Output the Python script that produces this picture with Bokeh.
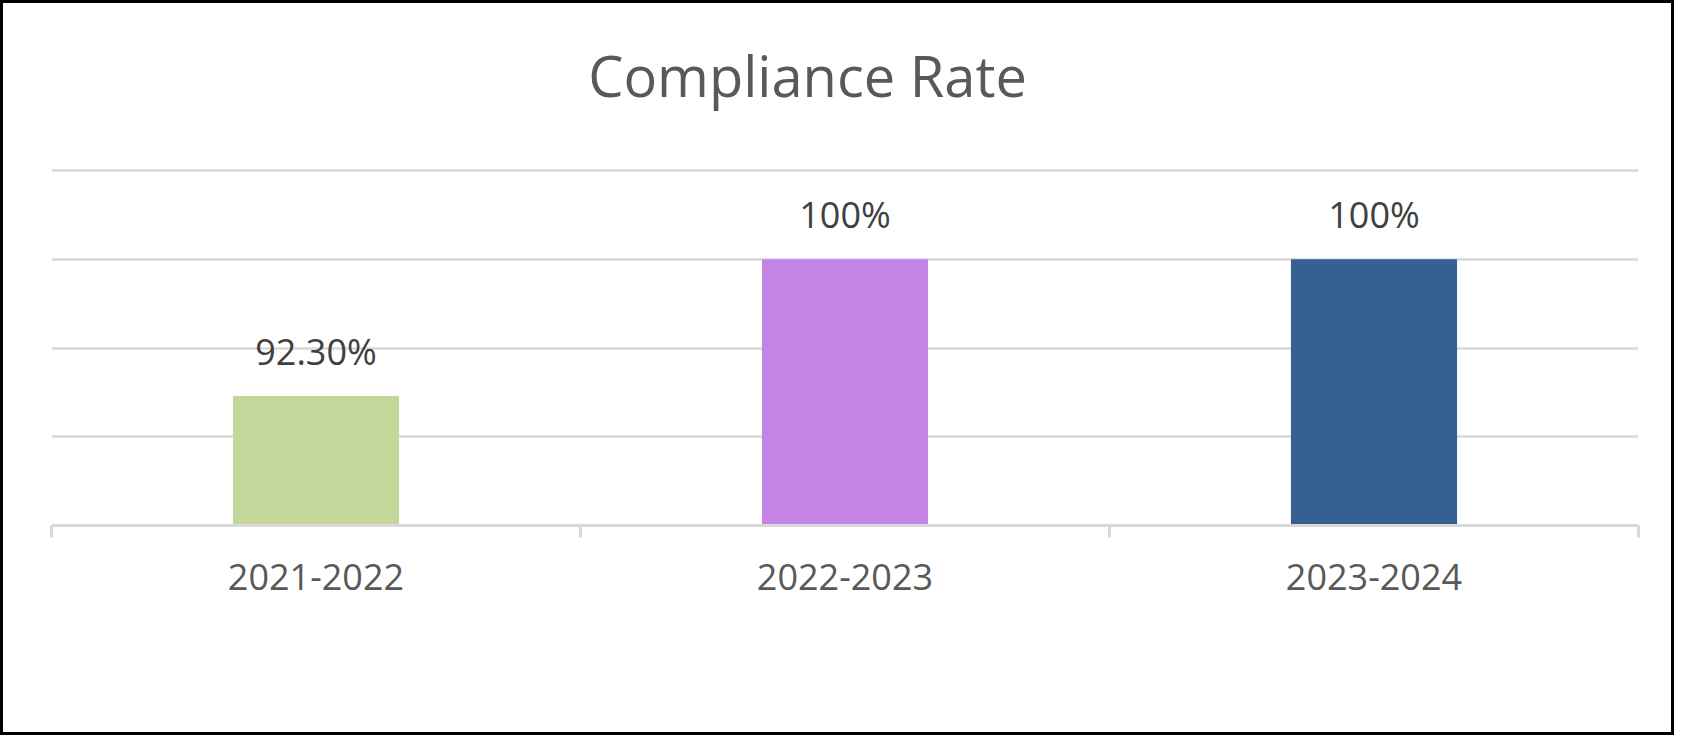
from bokeh.plotting import figure
from bokeh.models import (ColumnDataSource, LabelSet, Label, Range1d, LinearAxis,
                          FixedTicker, Grid)
from bokeh.embed import file_html
from bokeh.resources import INLINE
from bokeh.core.properties import value

# ---- data ----
categories = ["2021-2022", "2022-2023", "2023-2024"]
rates = [92.3, 100, 100]
rate_labels = ["92.30%", "100%", "100%"]
bar_colors = ["#C4D79B", "#C285E6", "#366092"]
y_ticks = [85, 90, 95, 100, 105]
title_text = "Compliance Rate"

FONT = "Open Sans"
GRID_COLOR = "#D9D9D9"

n = len(categories)
centers = [2 * i + 1 for i in range(n)]      # category slot centres (slot width = 2)
bounds = [2 * i for i in range(n + 1)]       # category slot boundaries

src = ColumnDataSource(dict(x=centers, cat=categories, val=rates, lbl=rate_labels, color=bar_colors))

p = figure(width=1674, height=735,
           x_range=Range1d(0, 2 * n), y_range=Range1d(y_ticks[0], 113),
           output_backend="svg", toolbar_location=None,
           x_axis_location=None, y_axis_location=None,
           min_border_left=51, min_border_right=36,
           min_border_top=28, min_border_bottom=210)
p.grid.visible = False
p.outline_line_color = None
p.background_fill_color = "white"
p.border_fill_color = None
p.styles = {"box-shadow": "inset 0 0 0 3px #000000"}

# horizontal gridlines
p.add_layout(Grid(dimension=1, ticker=FixedTicker(ticks=y_ticks),
                  grid_line_color=GRID_COLOR, grid_line_width=2.5))

# bars
p.vbar(x="x", top="val", width=0.628, fill_color="color", line_color=None, source=src)

# value labels
p.add_layout(LabelSet(x="x", y="val", text="lbl", source=src, y_offset=31,
                      text_align="center", text_baseline="alphabetic",
                      text_font=value(FONT), text_font_size=value("36px"), text_color="#404040"))

# category axis with boundary ticks
ax = LinearAxis(ticker=FixedTicker(ticks=centers, minor_ticks=bounds),
                major_label_overrides={c: lab for c, lab in zip(centers, categories)})
ax.axis_line_color = GRID_COLOR
ax.axis_line_width = 3
ax.major_tick_line_color = None
ax.major_tick_out = 12
ax.major_tick_in = 0
ax.minor_tick_line_color = GRID_COLOR
ax.minor_tick_line_width = 3
ax.minor_tick_out = 12
ax.minor_tick_in = 0
ax.major_label_standoff = 26
ax.major_label_text_font = FONT
ax.major_label_text_font_size = "36px"
ax.major_label_text_color = "#595959"
p.add_layout(ax, "below")

# title
p.add_layout(Label(x=n, y=y_ticks[-1], x_offset=-37.5, y_offset=96, text=title_text,
                   text_align="center", text_baseline="alphabetic",
                   text_font=FONT, text_font_size="56px", text_color="#595959"))

open("out.html", "w").write(file_html(p, INLINE))
